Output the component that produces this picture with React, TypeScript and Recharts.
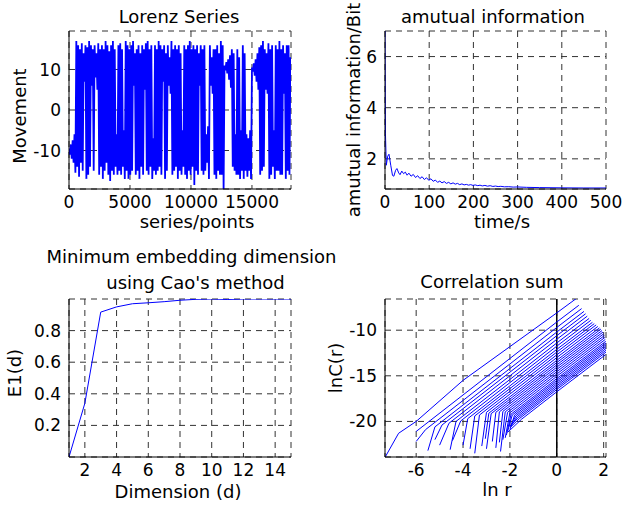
import { LineChart, Line, XAxis, YAxis, CartesianGrid, ReferenceLine } from "recharts";

const FONT = "'DejaVu Sans', Arial, sans-serif";
const BLUE = "#0000ff";

// Lorenz x-series, turning points (one every 75 samples)
const lorenzStep = 75;
const lorenzSeries = [
  -9.5, -11, -8.5, -12, -7.5, -13, -6, -15.5,
  17, -14, 16, -16.5, 15, -13, 16.5, -15, 14, 7, 16, -17, 15.5, -16, 17, -14, 16, 6, 15, -15,
  16, 8, 14, 5, 16.5, -16, 15, -14, 16, -17, 15, -15, 17, -13, 16, -16, 14.5, -17.5, 16, -15,
  17, -16, 15, -14, -6, -16, 16, -15, 16.5, -16, 15, -14, -5, -17, 17, -15, 16, -17, 15, -16,
  16, -15, 17, 6, 14, -16, 15, -15, 16, -17, 14, -14, 16, -16, 15, 5, 16.5, -15, 17, -16,
  15, -14, 16, -17, -7, -15, 16, -16, 15, -15, 17, -14, 16, -16, 15, 7, 16, -17, 14, -15,
  16, 6, 13, 4, 17, -16, 15, -15, 16, -14, 15, -17, 16, -15, 14, -16, -5, -14, 16, -16,
  15, -17, 16, -15, 17, -16, 15, -14, 16, -18.5, 15, -15, 16, -16, 14, 6, 16, -15, 15, -16,
  16, -15, -6, -13, -4, -17, 16, 6, 13, 4, 15, -16, 15, -17, 16, -15, 14, -16, 17, -16, 16, -19.5,
  11, 9.8, 11.8, 9, 12.5, 7.5, 13.5, 5.5, 15,
  -14, 14, -15, -6, -16, 15, -16, 13, -17, -5, -15, 16, -17, 14, -15, -6, -16.5, -7, -15, -5, -17,
  10.5, 9.5, 11.5, 8.5, 12.5, 7, 14, 5, 15.5,
  -16, 16, -15, 17, -14, 15, 5, 14, 4, 16.5, -17, 15, -16, 16, -14, -5, -17, 16, -15, 15,
  -15, 17, -16, 15, -16, 16, 4, 14, -17, 16, -15, 16, -16, 13,
];

const miLag = [
  0, 1, 3, 6, 9, 13, 17, 20, 24, 27, 31, 34, 38, 42, 46, 50, 54, 59, 64, 69, 74, 79, 84, 89, 94, 99,
  104, 109, 114, 119, 124, 129, 134, 139, 144, 149, 154, 159, 164, 169, 174, 179, 184, 189, 194, 199,
  204, 210, 215, 220, 226, 232, 238, 244, 250, 256, 262, 270, 280, 290, 300, 320, 350, 400, 450, 500,
];
const miValue = [
  7.0, 3.0, 1.75, 2.1, 2.18, 1.75, 1.35, 1.32, 1.55, 1.62, 1.45, 1.38, 1.52, 1.42, 1.48, 1.36, 1.44,
  1.32, 1.39, 1.27, 1.34, 1.23, 1.3, 1.19, 1.26, 1.16, 1.22, 1.12, 1.17, 1.08, 1.13, 1.06, 1.11, 1.04,
  1.08, 1.02, 1.06, 1.01, 1.04, 0.99, 1.02, 0.98, 1.0, 0.97, 0.99, 0.96, 0.98, 0.95, 0.97, 0.94, 0.96,
  0.93, 0.95, 0.92, 0.935, 0.915, 0.925, 0.905, 0.91, 0.895, 0.9, 0.885, 0.875, 0.865, 0.86, 0.86,
];

const caoDim = [1, 2, 3, 4, 5, 6, 7, 8, 9, 10, 11, 12, 13, 14, 15];
const caoE1 = [0.0, 0.34, 0.917, 0.95, 0.97, 0.976, 0.983, 0.992, 0.998, 1.0, 0.997, 1.0, 1.0, 1.0, 1.0];

// correlation sum curves, ln r / ln C(r) points per embedding dimension
const corrLnR = [
  [-7.32, -6.75, -6.0, -4.0, 0, 0.82],
  [-6.0, -5.75, 0, 0.94],
  [-6.0, -5.6, 0, 1.06],
  [-5.5, -5.2, 0, 1.16],
  [-5.2, -4.9, 0, 1.23],
  [-5.0, -4.6, 0, 1.3],
  [-4.55, -4.3, 0, 1.38],
  [-4.45, -4.1, 0, 1.45],
  [-4.0, -3.8, 0, 1.52],
  [-3.7, -3.5, 0, 1.6],
  [-3.5, -3.3, 0, 1.68],
  [-3.2, -3.0, 0, 1.75],
  [-3.05, -2.9, 0, 1.82],
  [-3.0, -2.8, 0, 1.88],
  [-2.75, -2.6, 0, 1.93],
  [-2.6, -2.45, 0, 1.97],
  [-2.45, -2.3, 0, 2.0],
  [-2.4, -2.2, 0, 2.03],
  [-2.3, -2.1, 0, 2.05],
  [-2.2, -2.0, 0, 2.07],
  [-2.15, -1.95, 0, 2.09],
  [-2.1, -1.9, 0, 2.1],
  [-2.0, -1.8, 0, 2.1],
  [-2.0, -1.75, 0, 2.1],
  [-1.95, -1.7, 0, 2.1],
  [-1.95, -1.65, 0, 2.1],
  [-2.0, -1.6, 0, 2.1],
  [-2.1, -1.5, 0, 2.08],
];
const corrLnC = [
  [-23.9, -21.3, -20.0, -15.5, -8.1, -6.55],
  [-21.1, -20.6, -9.1, -7.27],
  [-22.2, -20.9, -9.7, -7.63],
  [-23.2, -20.6, -10.2, -7.94],
  [-22.0, -20.4, -10.6, -8.2],
  [-22.6, -20.2, -11.0, -8.46],
  [-23.1, -20.0, -11.4, -8.71],
  [-22.1, -19.95, -11.75, -8.92],
  [-22.6, -19.7, -12.1, -9.14],
  [-23.0, -19.4, -12.4, -9.28],
  [-23.5, -19.3, -12.7, -9.42],
  [-22.7, -19.0, -13.0, -9.59],
  [-21.9, -19.1, -13.3, -9.75],
  [-23.0, -19.15, -13.55, -9.88],
  [-22.2, -19.0, -13.8, -10.04],
  [-22.9, -18.95, -14.05, -10.21],
  [-22.3, -18.9, -14.3, -10.4],
  [-23.3, -18.95, -14.55, -10.59],
  [-22.0, -19.0, -14.8, -10.8],
  [-21.8, -19.05, -15.05, -11.01],
  [-21.5, -19.2, -15.3, -11.22],
  [-21.1, -19.3, -15.5, -11.4],
  [-20.9, -19.3, -15.7, -11.6],
  [-20.6, -19.4, -15.9, -11.8],
  [-20.5, -19.5, -16.1, -12.0],
  [-20.4, -19.6, -16.3, -12.2],
  [-20.7, -19.7, -16.5, -12.4],
  [-21.2, -19.75, -16.75, -12.69],
];

const lorenzData = lorenzSeries.map((v, i) => ({ x: i * lorenzStep, y: v }));
const miData = miLag.map((x, i) => ({ x, y: miValue[i] }));
const caoData = caoDim.map((x, i) => ({ x, y: caoE1[i] }));
const corrData = corrLnR.map((xs, k) => xs.map((x, i) => ({ x, y: corrLnC[k][i] })));

const tickStyle = { fill: "#000", fontSize: 17, fontFamily: FONT };
const blackLine = { stroke: "#000" };

// matlab-style box: labelled bottom/left axes plus mirrored axes carrying inward tick marks
function frame(xDomain: number[], yDomain: number[], xTicks: number[], yTicks: number[]) {
  return [
    <CartesianGrid key="g" stroke="#333" strokeDasharray="6 5" />,
    <XAxis key="xtb" xAxisId="tb" orientation="bottom" mirror dataKey="x" type="number" domain={xDomain} ticks={xTicks}
      interval={0} allowDataOverflow tick={false} tickLine={blackLine} tickSize={4} axisLine={false} height={0} />,
    <XAxis key="xtt" xAxisId="tt" orientation="top" mirror dataKey="x" type="number" domain={xDomain} ticks={xTicks}
      interval={0} allowDataOverflow tick={false} tickLine={blackLine} tickSize={4} axisLine={blackLine} height={0} />,
    <YAxis key="ytl" yAxisId="tl" orientation="left" mirror type="number" domain={yDomain} ticks={yTicks}
      interval={0} allowDataOverflow tick={false} tickLine={blackLine} tickSize={4} axisLine={false} width={0} />,
    <YAxis key="ytr" yAxisId="tr" orientation="right" mirror type="number" domain={yDomain} ticks={yTicks}
      interval={0} allowDataOverflow tick={false} tickLine={blackLine} tickSize={4} axisLine={blackLine} width={0} />,
    <XAxis key="xb" dataKey="x" type="number" domain={xDomain} ticks={xTicks} interval={0} allowDataOverflow
      tick={tickStyle} tickLine={false} tickMargin={1} axisLine={blackLine} height={40} />,
    <YAxis key="yl" type="number" domain={yDomain} ticks={yTicks} interval={0} allowDataOverflow
      tick={tickStyle} tickLine={false} axisLine={blackLine} width={60} />,
  ];
}

const margin = { top: 10, right: 25, bottom: 0, left: 0 };

function Text({ cx, by, children }: { cx: number; by: number; children: any }) {
  return (
    <div style={{ position: "absolute", left: cx - 200, top: by - 15.2, width: 400, height: 18, lineHeight: "18px",
      fontSize: 18, fontFamily: FONT, textAlign: "center", whiteSpace: "nowrap", color: "#000" }}>
      {children}
    </div>
  );
}

function VText({ bx, cy, children }: { bx: number; cy: number; children: any }) {
  return (
    <div style={{ position: "absolute", left: bx - 6.2 - 150, top: cy - 9, width: 300, height: 18, lineHeight: "18px",
      fontSize: 18, fontFamily: FONT, textAlign: "center", whiteSpace: "nowrap", color: "#000",
      transform: "rotate(-90deg)" }}>
      {children}
    </div>
  );
}

export default function App() {
  return (
    <div style={{ position: "absolute", left: 0, top: 0, width: 625, height: 507, background: "#fff", overflow: "hidden" }}>
      <div style={{ position: "absolute", left: 9, top: 21 }}>
        <LineChart width={307} height={208} data={lorenzData} margin={margin}>
          {frame([0, 18200], [-19.5, 19.5], [0, 5000, 10000, 15000], [-10, 0, 10])}
          <Line dataKey="y" stroke={BLUE} strokeWidth={1.8} dot={false} isAnimationActive={false} />
        </LineChart>
      </div>
      <div style={{ position: "absolute", left: 325, top: 21 }}>
        <LineChart width={306} height={208} data={miData} margin={margin}>
          {frame([0, 500], [0.82, 7], [0, 100, 200, 300, 400, 500], [2, 4, 6])}
          <Line dataKey="y" stroke={BLUE} strokeWidth={1} dot={false} isAnimationActive={false} />
        </LineChart>
      </div>
      <div style={{ position: "absolute", left: 9, top: 289 }}>
        <LineChart width={307} height={208} data={caoData} margin={margin}>
          {frame([1, 15], [0, 1], [2, 4, 6, 8, 10, 12, 14], [0.2, 0.4, 0.6, 0.8])}
          <Line dataKey="y" stroke={BLUE} strokeWidth={1} dot={false} isAnimationActive={false} />
        </LineChart>
      </div>
      <div style={{ position: "absolute", left: 325, top: 289 }}>
        <LineChart width={306} height={208} margin={margin}>
          {frame([-7.33, 2.1], [-23.9, -6.58], [-6, -4, -2, 0, 2], [-20, -15, -10])}
          <ReferenceLine x={0} stroke="#000" strokeWidth={1.5} />
          {corrData.map((d, k) => (
            <Line key={k} data={d} dataKey="y" stroke={BLUE} strokeWidth={1} dot={false} isAnimationActive={false} />
          ))}
        </LineChart>
      </div>

      <Text cx={179} by={23}>Lorenz Series</Text>
      <Text cx={197} by={228}>series/points</Text>
      <VText bx={26} cy={116}>Movement</VText>

      <Text cx={493} by={23}>amutual information</Text>
      <Text cx={502} by={228}>time/s</Text>
      <VText bx={360.5} cy={110}>amutual information/Bit</VText>

      <Text cx={191.5} by={262.7}>Minimum embedding dimension</Text>
      <Text cx={195.5} by={289}>using Cao's method</Text>
      <Text cx={178} by={498}>Dimension (d)</Text>
      <VText bx={21.5} cy={372.5}>E1(d)</VText>

      <Text cx={492} by={288.3}>Correlation sum</Text>
      <Text cx={497} by={496}>ln r</Text>
      <VText bx={342} cy={367.5}>lnC(r)</VText>
    </div>
  );
}
